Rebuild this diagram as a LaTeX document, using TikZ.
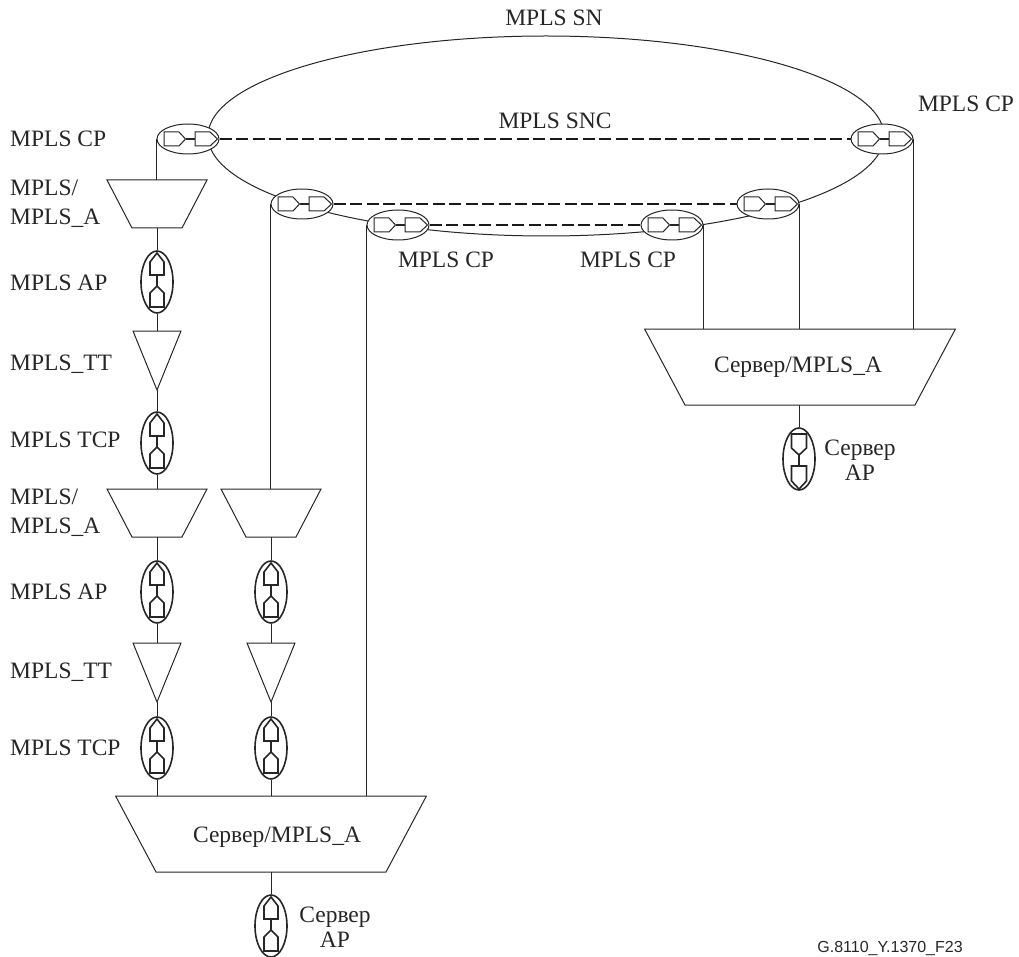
\documentclass[tikz,border=0pt]{standalone}
\usepackage{fontspec}
\setmainfont{Liberation Serif}
\newfontfamily\refsans{Liberation Sans}
\usetikzlibrary{shapes.geometric}
\tikzset{
  thinline/.style={line width=1pt, black!85},
  lbl/.style={font=\fontsize{23.5}{29}\selectfont, align=center, inner sep=0pt, text=black!85, text height=15.5pt, text depth=0pt},
  cplbl/.style={lbl, anchor=west},
  cp/.style={ellipse, draw, thinline, fill=white, minimum width=62pt, minimum height=30pt, inner sep=0pt,
    path picture={\begin{scope}[shift={(path picture bounding box.center)}]
      \draw[line width=1pt] (-24,-7) -- (-9,-7) -- (-2.5,0) -- (-9,7) -- (-24,7) -- cycle;
      \draw[line width=1pt] (7,-7) -- (22,-7) -- (29.5,0) -- (22,7) -- (7,7) -- cycle;
      \draw[line width=1.5pt] (-2.5,0) -- (7,0);
    \end{scope}}},
  ap/.style={ellipse, draw, line width=1.6pt, black!85, fill=white, minimum width=32pt, minimum height=62pt, inner sep=0pt,
    path picture={\begin{scope}[shift={(path picture bounding box.center)}]
      \draw[line width=1.6pt] (-7,-7) -- (-7,-20) -- (0,-29) -- (7,-20) -- (7,-7) -- cycle;
      \draw[line width=1.6pt] (-7,25) -- (-7,11) -- (0,4) -- (7,11) -- (7,25) -- cycle;
      \draw[line width=1.8pt] (0,-7) -- (0,4);
    \end{scope}}},
  apdown/.style={ellipse, draw, line width=1.6pt, black!85, fill=white, minimum width=32pt, minimum height=62pt, inner sep=0pt,
    path picture={\begin{scope}[shift={(path picture bounding box.center)}]
      \draw[line width=1.6pt] (-7.5,-25) -- (-7.5,-11) -- (0,-4) -- (7.5,-11) -- (7.5,-25) -- cycle;
      \draw[line width=1.6pt] (-7.5,7) -- (-7.5,22) -- (0,30) -- (7.5,22) -- (7.5,7) -- cycle;
      \draw[line width=1.8pt] (0,-4) -- (0,7);
    \end{scope}}},
  adapt/.style={trapezium, draw, thinline, shape border rotate=180, inner sep=0pt, outer sep=0pt, text depth=0pt},
  smalla/.style={adapt, text width=50pt, text height=48pt, trapezium left angle=62.5, trapezium right angle=62.5},
  biga/.style={adapt, text width=230pt, text height=76pt, trapezium left angle=62, trapezium right angle=62},
  tt/.style={isosceles triangle, draw, thinline, shape border rotate=-90, isosceles triangle stretches=true, minimum width=48pt, minimum height=59pt, inner sep=0pt, outer sep=0pt, anchor=apex},
  snc/.style={line width=2pt, dash pattern=on 12pt off 4.5pt, black!90},
}
\begin{document}
\begin{tikzpicture}[x=1pt, y=-1pt]
  \useasboundingbox (0,0) rectangle (1019,957);

  % subnetwork ring
  \node[ellipse, draw, thinline, minimum width=676pt, minimum height=200pt, inner sep=0pt] (sn) at (546,136) {};

  % connection points
  \node[cp] (cpa) at (188,139) {};
  \node[cp] (cpb) at (302,204) {};
  \node[cp] (cpc) at (398,225) {};
  \node[cp] (cpd) at (672,225) {};
  \node[cp] (cpe) at (768,204) {};
  \node[cp] (cpf) at (882,139) {};

  % subnetwork connections
  \draw[snc] (cpa.east) -- (cpf.west);
  \draw[snc] (cpb.east) -- (cpe.west);
  \draw[snc] (cpc.east) -- (cpd.west);

  % left column
  \node[smalla] (aa) at (157,204) {};
  \node[ap] (apa) at (157,282) {};
  \node[tt] (tta) at (157,390) {\strut};
  \node[ap] (tcpa) at (157,443) {};
  \node[smalla] (ab) at (157,513) {};
  \node[ap] (apb) at (157,592) {};
  \node[tt] (ttb) at (157,702) {\strut};
  \node[ap] (tcpb) at (157,748) {};

  % second column
  \node[smalla] (ac) at (271,513) {};
  \node[ap] (apc) at (271,592) {};
  \node[tt] (ttc) at (271,702) {\strut};
  \node[ap] (tcpc) at (271,748) {};

  % server adaptations
  \node[biga] (srva) at (271,834) {};
  \node[ap] (srvap) at (271,926) {};
  \node[biga] (srvb) at (800,367) {};
  \node[apdown] (srvbp) at (799,459) {};

  % links
  \draw[thinline] (cpa.west) -- (cpa.west |- aa.north);
  \draw[thinline] (aa.south) -- (apa.north);
  \draw[thinline] (apa.south) -- (tta.north);
  \draw[thinline] (tta.apex) -- (tcpa.north);
  \draw[thinline] (tcpa.south) -- (ab.north);
  \draw[thinline] (ab.south) -- (apb.north);
  \draw[thinline] (apb.south) -- (ttb.north);
  \draw[thinline] (ttb.apex) -- (tcpb.north);
  \draw[thinline] (tcpb.south) -- (tcpb.south |- srva.north);
  \draw[thinline] (cpb.west) -- (cpb.west |- ac.north);
  \draw[thinline] (ac.south) -- (apc.north);
  \draw[thinline] (apc.south) -- (ttc.north);
  \draw[thinline] (ttc.apex) -- (tcpc.north);
  \draw[thinline] (tcpc.south) -- (srva.north);
  \draw[thinline] (cpc.west) -- (cpc.west |- srva.north);
  \draw[thinline] (srva.south) -- (srvap.north);
  \draw[thinline] (cpd.east) -- (cpd.east |- srvb.north);
  \draw[thinline] (cpe.east) -- (cpe.east |- srvb.north);
  \draw[thinline] (cpf.east) -- (cpf.east |- srvb.north);
  \draw[thinline] (srvb.south -| srvbp.north) -- (srvbp.north);

  % labels
  \node[lbl] (tsn) at (554,18) {MPLS SN};
  \node[lbl] (tsnc) at (555,121) {MPLS SNC};
  \node[lbl] (tcpr) at (966,104) {MPLS CP};
  \node[lbl] (tcpm) at (446,260) {MPLS CP};
  \node[lbl] (tcpn) at (628,260) {MPLS CP};
  \node[cplbl] (tcpl) at (10,139) {MPLS CP};
  \node[cplbl] (tma) at (10,188) {MPLS/};
  \node[cplbl] (tmb) at (10,217) {MPLS\_A};
  \node[cplbl] (tapa) at (10,283) {MPLS AP};
  \node[cplbl] (ttta) at (10,363) {MPLS\_TT};
  \node[cplbl] (ttcpa) at (10,440) {MPLS TCP};
  \node[cplbl] (tmc) at (10,497) {MPLS/};
  \node[cplbl] (tmd) at (10,526) {MPLS\_A};
  \node[cplbl] (tapb) at (10,592) {MPLS AP};
  \node[cplbl] (tttb) at (10,671) {MPLS\_TT};
  \node[cplbl] (ttcpb) at (10,748) {MPLS TCP};
  \node[lbl] (tsa) at (277,835) {Сервер/MPLS\_A};
  \node[lbl] (tsb) at (798,365) {Сервер/MPLS\_A};
  \node[lbl] (tapl) at (335,915) {Сервер};
  \node[lbl] (tapla) at (335,940) {AP};
  \node[lbl] (tapr) at (860,448) {Сервер};
  \node[lbl] (tapra) at (860,473) {AP};
  \node[lbl, font=\refsans\fontsize{16}{18}\selectfont, text height=11pt] (tref) at (890,947) {G.8110\_Y.1370\_F23};
\end{tikzpicture}
\end{document}
